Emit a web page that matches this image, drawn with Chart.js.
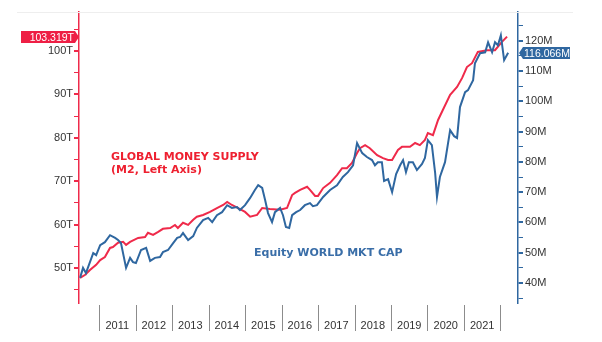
<!DOCTYPE html>
<html>
<head>
<meta charset="utf-8">
<script src="https://cdn.jsdelivr.net/npm/chart.js@4.4.1/dist/chart.umd.min.js"></script>
<style>
  html, body { margin: 0; padding: 0; background: #fff; }
  #wrap { width: 602px; height: 342px; }
</style>
</head>
<body>
<div id="wrap"><canvas id="moneyChart" width="602" height="342"></canvas></div>
<script>
// Global M2 money supply (trillions, left axis)
const m2Years = [2010.48, 2010.62, 2010.75, 2010.92, 2011.03, 2011.16, 2011.30, 2011.38, 2011.52, 2011.66,
    2011.74, 2011.85, 2012.07, 2012.26, 2012.34, 2012.48, 2012.62, 2012.75, 2012.95, 2013.08,
    2013.16, 2013.30, 2013.44, 2013.58, 2013.68, 2013.85, 2014.04, 2014.23, 2014.40, 2014.51,
    2014.64, 2014.81, 2015.00, 2015.14, 2015.33, 2015.47, 2015.68, 2015.96, 2016.15, 2016.29,
    2016.37, 2016.51, 2016.70, 2016.78, 2016.92, 2017.00, 2017.14, 2017.33, 2017.52, 2017.66,
    2017.79, 2017.93, 2018.07, 2018.15, 2018.29, 2018.42, 2018.62, 2018.78, 2018.92, 2019.03,
    2019.19, 2019.30, 2019.52, 2019.66, 2019.79, 2019.93, 2020.01, 2020.15, 2020.29, 2020.42,
    2020.62, 2020.81, 2020.95, 2021.08, 2021.22, 2021.38, 2021.63, 2021.85, 2022.04, 2022.18];
const m2Values = [47.7, 48.4, 49.5, 50.7, 51.8, 52.5, 54.6, 54.8, 55.8, 56.0,
    55.3, 56.0, 56.9, 57.1, 58.1, 57.6, 58.3, 59.0, 59.2, 59.9,
    59.2, 60.4, 59.9, 61.1, 61.8, 62.2, 62.9, 63.8, 64.5, 65.2,
    64.5, 63.8, 62.9, 61.8, 62.2, 63.8, 63.6, 63.4, 63.8, 66.8,
    67.3, 68.0, 68.7, 68.0, 66.6, 66.6, 68.4, 69.6, 71.4, 73.0,
    73.0, 74.2, 76.5, 77.6, 78.3, 77.6, 76.0, 75.3, 74.9, 74.9,
    77.2, 77.9, 77.9, 78.8, 78.3, 79.5, 81.1, 80.6, 84.1, 86.4,
    89.9, 91.7, 93.8, 96.3, 97.2, 99.8, 100.2, 100.2, 102.1, 103.319];

// Equity world market cap (millions, right axis)
const capYears = [2010.48, 2010.56, 2010.64, 2010.75, 2010.84, 2010.92, 2011.03, 2011.16, 2011.30, 2011.44,
    2011.52, 2011.60, 2011.74, 2011.85, 2011.93, 2012.01, 2012.15, 2012.29, 2012.40, 2012.53,
    2012.67, 2012.75, 2012.89, 2013.03, 2013.14, 2013.22, 2013.30, 2013.44, 2013.58, 2013.68,
    2013.85, 2013.99, 2014.10, 2014.23, 2014.37, 2014.51, 2014.64, 2014.78, 2014.86, 2015.00,
    2015.14, 2015.27, 2015.36, 2015.47, 2015.55, 2015.63, 2015.74, 2015.82, 2015.96, 2016.04,
    2016.12, 2016.21, 2016.29, 2016.40, 2016.51, 2016.64, 2016.78, 2016.86, 2016.97, 2017.14,
    2017.33, 2017.52, 2017.68, 2017.82, 2017.96, 2018.07, 2018.21, 2018.34, 2018.48, 2018.56,
    2018.64, 2018.75, 2018.81, 2018.92, 2019.03, 2019.14, 2019.25, 2019.33, 2019.41, 2019.49,
    2019.60, 2019.71, 2019.85, 2019.93, 2020.01, 2020.12, 2020.21, 2020.26, 2020.34, 2020.48,
    2020.62, 2020.73, 2020.81, 2020.89, 2021.03, 2021.11, 2021.25, 2021.30, 2021.44, 2021.58,
    2021.66, 2021.77, 2021.85, 2021.93, 2022.01, 2022.10, 2022.21];
const capValues = [41.7, 45.0, 43.3, 46.9, 49.9, 49.2, 52.5, 53.5, 55.8, 54.9,
    54.2, 53.2, 45.0, 48.3, 46.9, 46.6, 50.9, 51.6, 47.3, 48.3,
    48.6, 50.2, 50.9, 53.2, 54.9, 55.2, 56.5, 54.2, 55.5, 58.2,
    60.8, 61.5, 60.1, 62.4, 63.4, 65.7, 64.8, 65.1, 64.1, 65.7,
    68.1, 70.7, 72.3, 71.4, 67.4, 63.1, 60.1, 63.4, 64.8, 62.4,
    58.5, 58.2, 62.4, 63.4, 64.1, 65.7, 66.4, 65.4, 65.7, 68.4,
    70.7, 72.3, 75.0, 76.6, 78.9, 86.2, 82.9, 81.6, 80.6, 78.9,
    79.9, 79.9, 73.7, 74.3, 70.0, 76.0, 78.9, 80.6, 76.6, 79.9,
    79.9, 77.3, 79.3, 81.3, 87.2, 85.5, 76.3, 68.4, 75.0, 79.9,
    90.5, 88.5, 87.9, 98.1, 103.0, 103.7, 107.0, 112.6, 115.9, 116.2,
    119.5, 116.2, 119.5, 118.5, 121.8, 113.6, 116.066];

const yearLabels = [2011, 2012, 2013, 2014, 2015, 2016, 2017, 2018, 2019, 2020, 2021];

const RED = "#ef2a4a";
const BLUE = "#2f67a0";

const overlayPlugin = {
    id: "overlay",
    afterDraw(chart) {
        const ctx = chart.ctx;
        const xs = chart.scales.x;
        const yL = chart.scales.yL;
        const yR = chart.scales.yR;
        const area = chart.chartArea;
        ctx.save();

        // faint frame line at top
        ctx.strokeStyle = "#eeeeee";
        ctx.lineWidth = 1;
        ctx.beginPath();
        ctx.moveTo(17, area.top + 0.5);
        ctx.lineTo(573, area.top + 0.5);
        ctx.stroke();

        // year separators
        ctx.strokeStyle = "#8c8c8c";
        for (let yr = yearLabels[0]; yr <= yearLabels[yearLabels.length - 1] + 1; yr++) {
            const px = Math.round(xs.getPixelForValue(yr)) + 0.5;
            ctx.beginPath();
            ctx.moveTo(px, area.bottom + 2);
            ctx.lineTo(px, area.bottom + 28);
            ctx.stroke();
        }

        // annotations
        ctx.font = "bold 11px 'DejaVu Sans'";
        ctx.textAlign = "left";
        ctx.textBaseline = "alphabetic";
        ctx.fillStyle = "#ee2030";
        ctx.fillText("GLOBAL MONEY SUPPLY", 111, 160);
        ctx.fillText("(M2, Left Axis)", 111, 173);
        ctx.fillStyle = "#3a6ea8";
        ctx.fillText("Equity WORLD MKT CAP", 254, 256);

        // last value tags
        ctx.font = "10.5px 'Liberation Sans'";
        const ly = Math.round(yL.getPixelForValue(m2Values[m2Values.length - 1]));
        ctx.fillStyle = "#ee1f45";
        ctx.beginPath();
        ctx.moveTo(21, ly - 6);
        ctx.lineTo(75, ly - 6);
        ctx.lineTo(79, ly);
        ctx.lineTo(75, ly + 6);
        ctx.lineTo(21, ly + 6);
        ctx.closePath();
        ctx.fill();
        ctx.fillStyle = "#fff";
        ctx.textAlign = "right";
        ctx.textBaseline = "middle";
        ctx.fillText("103.319T", 74, ly + 1);

        const ry = Math.round(yR.getPixelForValue(capValues[capValues.length - 1]));
        ctx.fillStyle = "#2f67a0";
        ctx.beginPath();
        ctx.moveTo(519, ry);
        ctx.lineTo(523, ry - 6);
        ctx.lineTo(570, ry - 6);
        ctx.lineTo(570, ry + 6);
        ctx.lineTo(523, ry + 6);
        ctx.closePath();
        ctx.fill();
        ctx.fillStyle = "#fff";
        ctx.textAlign = "left";
        ctx.fillText("116.066M", 524, ry + 1);

        ctx.restore();
    }
};

const tickFont = { family: "'Liberation Sans'", size: 11 };

new Chart(document.getElementById("moneyChart").getContext("2d"), {
    type: "line",
    data: {
        datasets: [{
            label: "Global Money Supply",
            data: m2Years.map((x, i) => ({ x: x, y: m2Values[i] })),
            yAxisID: "yL",
            borderColor: RED,
            borderWidth: 2,
            pointRadius: 0,
            tension: 0,
            order: 2
        }, {
            label: "Equity World Mkt Cap",
            data: capYears.map((x, i) => ({ x: x, y: capValues[i] })),
            yAxisID: "yR",
            borderColor: BLUE,
            borderWidth: 2,
            pointRadius: 0,
            tension: 0,
            order: 1
        }]
    },
    options: {
        responsive: false,
        animation: false,
        layout: { padding: { top: 12, left: 0, right: 0, bottom: 0 } },
        plugins: {
            legend: { display: false },
            tooltip: { enabled: false }
        },
        scales: {
            x: {
                type: "linear",
                min: 2010.45,
                max: 2022.48,
                afterBuildTicks: s => { s.ticks = yearLabels.map(y => ({ value: y + 0.5 })); },
                afterFit: s => { s.height = 39; },
                grid: { display: false },
                border: { display: false },
                ticks: {
                    autoSkip: false,
                    maxRotation: 0,
                    padding: 8,
                    color: "#333",
                    font: tickFont,
                    callback: v => String(Math.floor(v))
                }
            },
            yL: {
                position: "left",
                min: 41.9,
                max: 109,
                afterFit: s => { s.width = 79; },
                afterBuildTicks: s => {
                    const t = [];
                    for (let v = 45; v <= 105; v += 5) t.push({ value: v });
                    s.ticks = t;
                },
                border: { color: RED, width: 1.5 },
                grid: {
                    drawOnChartArea: false,
                    color: RED,
                    tickLength: 5,
                    lineWidth: c => (c.tick && c.tick.value % 10 === 0 ? 2 : 1)
                },
                ticks: {
                    autoSkip: false,
                    padding: 1,
                    color: "#333",
                    font: tickFont,
                    callback: v => (v % 10 === 0 ? v + "T" : "")
                }
            },
            yR: {
                position: "right",
                min: 33.4,
                max: 129.5,
                afterFit: s => { s.width = 84; },
                afterBuildTicks: s => {
                    const t = [];
                    for (let v = 35; v <= 125; v += 5) t.push({ value: v });
                    s.ticks = t;
                },
                border: { color: BLUE, width: 1.5 },
                grid: {
                    drawOnChartArea: false,
                    color: BLUE,
                    tickLength: 5,
                    lineWidth: c => (c.tick && c.tick.value % 10 === 0 ? 2 : 1)
                },
                ticks: {
                    autoSkip: false,
                    padding: 2,
                    color: "#333",
                    font: tickFont,
                    callback: v => (v % 10 === 0 ? v + "M" : "")
                }
            }
        }
    },
    plugins: [overlayPlugin]
});
</script>
</body>
</html>
